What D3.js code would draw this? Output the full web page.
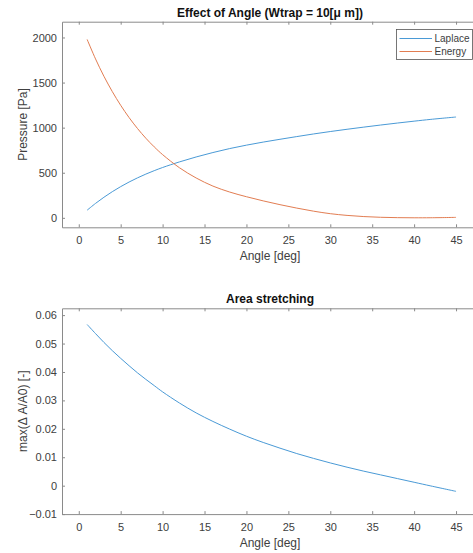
<!DOCTYPE html>
<html>
<head>
<meta charset="utf-8">
<script src="https://cdn.jsdelivr.net/npm/d3@7"></script>
<style>
  body { margin: 0; background: #fff; }
  svg text { font-family: "Liberation Sans", Arial, sans-serif; }
</style>
</head>
<body>
<script>
// angle samples [deg]
var angle = [1, 2, 3, 4, 5, 6, 7, 8, 9, 10, 12, 14, 16, 18, 20, 22, 24, 26, 28, 30, 32, 34, 36, 38, 40, 42, 45];

// pressure [Pa]
var laplace = [85, 160, 228, 290, 346, 397, 443, 485, 523, 558, 620, 675, 724, 768, 806, 840, 871, 901, 930, 957, 982, 1006, 1029, 1051, 1072, 1092, 1118];
var energy = [1978, 1762, 1570, 1400, 1248, 1112, 991, 883, 787, 701, 556, 442, 352, 286, 234, 188, 146, 108, 74, 46, 27, 14, 6, 2, 0.5, 1, 5];

// max(dA/A0) [-]
var stretch = [0.0567, 0.0535, 0.0504, 0.0475, 0.0448, 0.0422, 0.0397, 0.0374, 0.0352, 0.0330, 0.0291, 0.0256, 0.0226, 0.0199, 0.0174, 0.0152, 0.0132, 0.0113, 0.0096, 0.0080, 0.0065, 0.0051, 0.0038, 0.0025, 0.0012, -0.0001, -0.0020];

var xTicks = [0, 5, 10, 15, 20, 25, 30, 35, 40, 45];
var pTicks = [0, 500, 1000, 1500, 2000];
var sTicks = [-0.01, 0, 0.01, 0.02, 0.03, 0.04, 0.05, 0.06];

var seriesNames = ["Laplace", "Energy"];
var colors = ["#4a9ad6", "#e27d52"];

var width = 473, height = 553;
var axisColor = "#8a8a8a", textColor = "#404040";

var svg = d3.select("body").append("svg")
    .attr("width", width)
    .attr("height", height);

var xScale = d3.scaleLinear().domain([-2, 47.5]).range([62, 477]);

// draws one boxed panel, returns the group
function panel(top, bottom, yScale, yTicks, yFmt, title, ylabel) {
    var g = svg.append("g");

    g.append("g")
        .attr("transform", "translate(0," + bottom + ")")
        .call(d3.axisBottom(xScale).tickValues(xTicks).tickSizeInner(-3).tickSizeOuter(0).tickPadding(9));
    g.append("g")
        .attr("transform", "translate(0," + top + ")")
        .call(d3.axisTop(xScale).tickValues(xTicks).tickSizeInner(-3).tickSizeOuter(0).tickFormat(""));
    g.append("g")
        .attr("transform", "translate(62,0)")
        .call(d3.axisLeft(yScale).tickValues(yTicks).tickSizeInner(-3).tickSizeOuter(0).tickPadding(5).tickFormat(yFmt));
    g.append("g")
        .attr("transform", "translate(477,0)")
        .call(d3.axisRight(yScale).tickValues(yTicks).tickSizeInner(-3).tickSizeOuter(0).tickFormat(""));

    g.selectAll(".domain, .tick line").attr("stroke", axisColor);
    g.selectAll(".tick text")
        .attr("fill", textColor)
        .style("font-size", "11px");

    // title
    g.append("text")
        .attr("x", 270)
        .attr("y", top - 5)
        .attr("text-anchor", "middle")
        .style("font-size", "12px")
        .style("font-weight", "bold")
        .attr("fill", "#111")
        .text(title);

    // x label
    g.append("text")
        .attr("x", 270)
        .attr("y", bottom + 32.5)
        .attr("text-anchor", "middle")
        .style("font-size", "12px")
        .attr("fill", textColor)
        .text("Angle [deg]");

    // y label
    g.append("text")
        .attr("transform", "translate(27," + ((top + bottom) / 2) + ") rotate(-90)")
        .attr("text-anchor", "middle")
        .style("font-size", "12px")
        .attr("fill", textColor)
        .text(ylabel);

    return g;
}

// ---- top: pressure vs angle ----
var pScale = d3.scaleLinear().domain([-105, 2175]).range([227.3, 21.7]);
var top1 = panel(21.7, 227.3, pScale, pTicks, d3.format("d"),
    "Effect of Angle (Wtrap = 10[\u03bc m])", "Pressure [Pa]");

var pLine = d3.line()
    .x(function(d) { return xScale(d[0]); })
    .y(function(d) { return pScale(d[1]); })
    .curve(d3.curveCatmullRom.alpha(0.5));

[laplace, energy].forEach(function(vals, i) {
    top1.append("path")
        .datum(d3.zip(angle, vals))
        .attr("fill", "none")
        .attr("stroke", colors[i])
        .attr("stroke-width", 1)
        .attr("d", pLine);
});

// legend
var leg = top1.append("g").attr("transform", "translate(396.5,29.5)");
leg.append("rect")
    .attr("width", 76)
    .attr("height", 30)
    .attr("fill", "#fff")
    .attr("stroke", "#555")
    .attr("stroke-width", 0.8);
seriesNames.forEach(function(name, i) {
    var yy = 9 + i * 13;
    leg.append("line")
        .attr("x1", 3).attr("x2", 35.5)
        .attr("y1", yy).attr("y2", yy)
        .attr("stroke", colors[i])
        .attr("stroke-width", 1);
    leg.append("text")
        .attr("x", 38)
        .attr("y", yy + 3.5)
        .style("font-size", "10px")
        .attr("fill", textColor)
        .text(name);
});

// ---- bottom: area stretching ----
var sScale = d3.scaleLinear().domain([-0.01, 0.0624]).range([514.1, 308.3]);
var bot = panel(308.3, 514.1, sScale, sTicks, function(d) { return d3.format("")(+d.toFixed(2)); },
    "Area stretching", "max(\u0394 A/A0) [-]");

var sLine = d3.line()
    .x(function(d) { return xScale(d[0]); })
    .y(function(d) { return sScale(d[1]); })
    .curve(d3.curveCatmullRom.alpha(0.5));

bot.append("path")
    .datum(d3.zip(angle, stretch))
    .attr("fill", "none")
    .attr("stroke", colors[0])
    .attr("stroke-width", 1)
    .attr("d", sLine);
</script>
</body>
</html>
